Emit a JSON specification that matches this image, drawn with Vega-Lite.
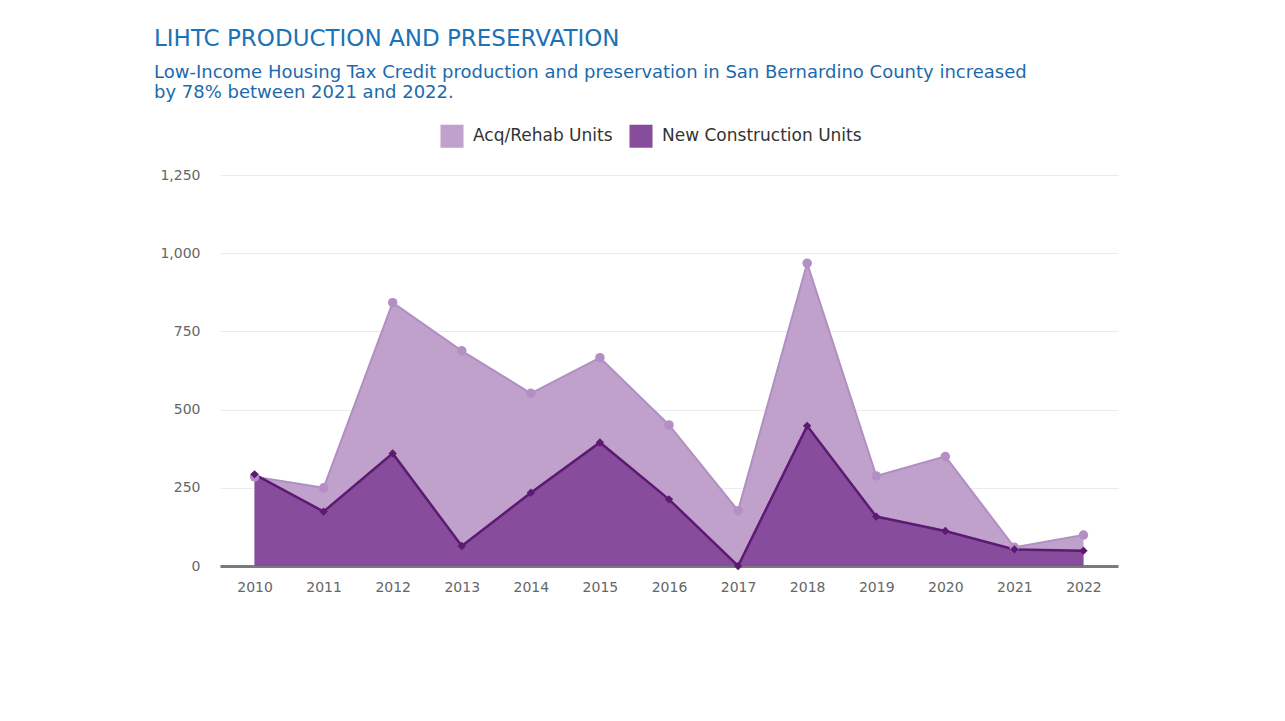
{
  "$schema": "https://vega.github.io/schema/vega-lite/v6.json",
  "width": 898,
  "height": 391,
  "autosize": {"type": "none"},
  "padding": {"left": 220, "top": 175, "right": 167, "bottom": 155},
  "background": "white",
  "title": {
    "text": "LIHTC PRODUCTION AND PRESERVATION",
    "subtitle": ["Low-Income Housing Tax Credit production and preservation in San Bernardino County increased", "by 78% between 2021 and 2022."],
    "anchor": "start",
    "frame": "group",
    "dx": -66,
    "offset": 22,
    "font": "DejaVu Sans",
    "fontSize": 23,
    "fontWeight": "normal",
    "color": "#1b72b6",
    "subtitleFont": "DejaVu Sans",
    "subtitleFontSize": 18,
    "subtitleColor": "#1b6aae",
    "subtitlePadding": 13,
    "subtitleLineHeight": 20
  },
  "data": {
    "values": [
      {"year": "2010", "series": "Acq/Rehab Units", "value": 285},
      {"year": "2011", "series": "Acq/Rehab Units", "value": 250},
      {"year": "2012", "series": "Acq/Rehab Units", "value": 842},
      {"year": "2013", "series": "Acq/Rehab Units", "value": 688},
      {"year": "2014", "series": "Acq/Rehab Units", "value": 552},
      {"year": "2015", "series": "Acq/Rehab Units", "value": 666},
      {"year": "2016", "series": "Acq/Rehab Units", "value": 451},
      {"year": "2017", "series": "Acq/Rehab Units", "value": 177},
      {"year": "2018", "series": "Acq/Rehab Units", "value": 968},
      {"year": "2019", "series": "Acq/Rehab Units", "value": 288},
      {"year": "2020", "series": "Acq/Rehab Units", "value": 350},
      {"year": "2021", "series": "Acq/Rehab Units", "value": 60},
      {"year": "2022", "series": "Acq/Rehab Units", "value": 99},
      {"year": "2010", "series": "New Construction Units", "value": 293},
      {"year": "2011", "series": "New Construction Units", "value": 174},
      {"year": "2012", "series": "New Construction Units", "value": 360},
      {"year": "2013", "series": "New Construction Units", "value": 64},
      {"year": "2014", "series": "New Construction Units", "value": 234},
      {"year": "2015", "series": "New Construction Units", "value": 395},
      {"year": "2016", "series": "New Construction Units", "value": 213},
      {"year": "2017", "series": "New Construction Units", "value": 0},
      {"year": "2018", "series": "New Construction Units", "value": 448},
      {"year": "2019", "series": "New Construction Units", "value": 158},
      {"year": "2020", "series": "New Construction Units", "value": 112},
      {"year": "2021", "series": "New Construction Units", "value": 53},
      {"year": "2022", "series": "New Construction Units", "value": 49}
    ]
  },
  "encoding": {
    "x": {
      "field": "year",
      "type": "ordinal",
      "scale": {"type": "point", "padding": 0.5},
      "axis": {
        "title": null,
        "labelAngle": 0,
        "ticks": false,
        "domainColor": "#7a7a7a",
        "domainWidth": 3,
        "labelFont": "DejaVu Sans",
        "labelFontSize": 14,
        "labelColor": "#666666",
        "labelPadding": 14,
        "grid": false
      }
    },
    "y": {
      "field": "value",
      "type": "quantitative",
      "stack": null,
      "scale": {"domain": [0, 1250]},
      "axis": {
        "title": null,
        "values": [0, 250, 500, 750, 1000, 1250],
        "format": ",.0f",
        "domain": false,
        "ticks": false,
        "gridColor": "#ebebeb",
        "gridWidth": 1,
        "labelFont": "DejaVu Sans",
        "labelFontSize": 14,
        "labelColor": "#666666",
        "labelPadding": 20
      }
    }
  },
  "layer": [
    {
      "mark": {"type": "area", "opacity": 1},
      "encoding": {
        "color": {
          "field": "series",
          "type": "nominal",
          "scale": {"domain": ["Acq/Rehab Units", "New Construction Units"], "range": ["#c0a1cc", "#874c9b"]},
          "legend": {
            "title": null,
            "orient": "none",
            "legendX": 220,
            "legendY": -51,
            "direction": "horizontal",
            "symbolType": "square",
            "symbolSize": 530,
            "symbolStrokeWidth": 0,
            "symbolOpacity": 1,
            "labelFont": "DejaVu Sans",
            "labelFontSize": 17,
            "labelColor": "#333333",
            "labelLimit": 400,
            "columnPadding": 16,
            "labelOffset": 9
          }
        }
      }
    },
    {
      "transform": [{"filter": "datum.series === 'Acq/Rehab Units'"}],
      "mark": {"type": "line", "color": "#b08fc2", "strokeWidth": 2}
    },
    {
      "transform": [{"filter": "datum.series === 'New Construction Units'"}],
      "mark": {"type": "line", "color": "#5c1a72", "strokeWidth": 2.5}
    },
    {
      "transform": [{"filter": "datum.series === 'Acq/Rehab Units'"}],
      "mark": {"type": "point", "shape": "circle", "filled": true, "color": "#b48fc5", "size": 90, "opacity": 1}
    },
    {
      "transform": [{"filter": "datum.series === 'New Construction Units'"}],
      "mark": {"type": "point", "shape": "diamond", "filled": true, "color": "#5c1a72", "size": 70, "opacity": 1}
    }
  ],
  "config": {"view": {"stroke": null}}
}
